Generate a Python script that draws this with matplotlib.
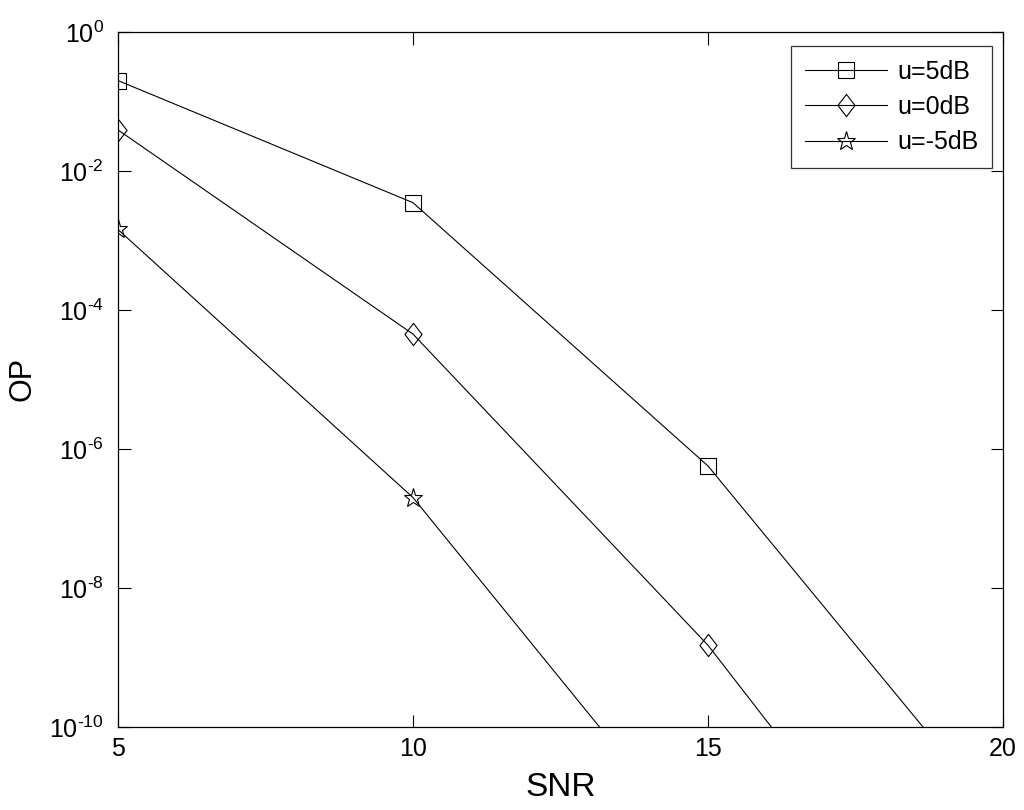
import numpy as np
import matplotlib.pyplot as plt
from matplotlib.path import Path
from matplotlib.ticker import FuncFormatter

plt.rcParams['font.family'] = ['Liberation Sans', 'DejaVu Sans']
plt.rcParams['mathtext.fontset'] = 'custom'
plt.rcParams['mathtext.rm'] = 'Liberation Sans'
plt.rcParams['mathtext.it'] = 'Liberation Sans'
plt.rcParams['axes.unicode_minus'] = False

snr = [5, 10, 15, 20]
op_u5 = [2.0e-1, 3.5e-3, 5.7e-7, 4e-12]
op_u0 = [3.9e-2, 4.5e-5, 1.5e-9, 5e-15]
op_um5 = [1.44e-3, 2e-7, 1.2e-12, 1e-17]
yticks = [1e-10, 1e-8, 1e-6, 1e-4, 1e-2, 1]

# taller-than-wide diamond, like the matlab one
diamond = Path([(0, 1), (0.77, 0), (0, -1), (-0.77, 0), (0, 1)],
               [Path.MOVETO, Path.LINETO, Path.LINETO, Path.LINETO, Path.CLOSEPOLY])


def pow10(v, pos):
    e = int(round(np.log10(v)))
    if e < 0:
        return r'$10^{\text{-}%d}$' % -e
    return r'$10^{%d}$' % e


fig = plt.figure(figsize=(10.24, 8.10), dpi=100)
ax = fig.add_axes([118/1024, 1 - 727/810, 885/1024, 695/810])

ax.semilogy(snr, op_u5, 'k-', marker='s', mfc='none', ms=12, lw=0.8, mew=0.8, label='u=5dB')
ax.semilogy(snr, op_u0, 'k-', marker=diamond, mfc='none', ms=16, lw=0.8, mew=0.8, label='u=0dB')
ax.semilogy(snr, op_um5, 'k-', marker='*', mfc='none', ms=14, lw=0.8, mew=0.8, label='u=-5dB')

ax.set_xlim(5, 20)
ax.set_ylim(1e-10, 1)
ax.set_xticks([5, 10, 15, 20])
ax.set_yticks(yticks)
ax.yaxis.set_major_formatter(FuncFormatter(pow10))
ax.minorticks_off()
ax.tick_params(direction='in', length=9, labelsize=18, top=True, right=True, width=0.8)
ax.tick_params(axis='y', pad=10)
ax.tick_params(axis='x', pad=7)
for s in ax.spines.values():
    s.set_linewidth(0.9)
ax.set_xlabel('SNR', fontsize=24, va='center')
ax.set_ylabel('OP', fontsize=22, va='center')
ax.xaxis.set_label_coords(0.5, (727 - 788) / 695)
ax.yaxis.set_label_coords((23 - 118) / 885, 0.5)

leg = ax.legend(loc='upper right', bbox_to_anchor=(992/1024, 1 - 46/810), bbox_transform=fig.transFigure,
                fontsize=18, frameon=True, fancybox=False, edgecolor='black',
                handlelength=3.3, handletextpad=0.4, borderpad=0.55, labelspacing=0.45,
                borderaxespad=0)
leg.get_frame().set_linewidth(0.9)

fig.savefig('out.png', dpi=100)
